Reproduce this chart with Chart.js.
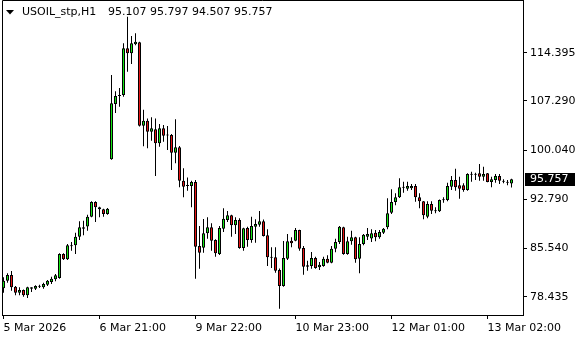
<!DOCTYPE html>
<html>
<head>
<meta charset="utf-8">
<script src="https://cdn.jsdelivr.net/npm/chart.js@4/dist/chart.umd.min.js"></script>
<style>
  html, body { margin: 0; padding: 0; background: #fff; }
  #wrap { position: relative; width: 580px; height: 340px; }
  .hdr {
    position: absolute; top: 5px;
    font: 11px "DejaVu Sans", sans-serif; color: #000; white-space: pre;
  }
</style>
</head>
<body>
<div id="wrap">
  <canvas id="c" width="580" height="340"></canvas>
  <div class="hdr" style="left:22px">USOIL_stp,H1</div>
  <div class="hdr" style="left:108px">95.107 95.797 94.507 95.757</div>
</div>
<script>
const BULL = '#14e614', BEAR = '#e61414', INK = '#000';
const FONT = { family: 'DejaVu Sans', size: 11 };

const opens = [
  79.67, 80.78, 81.62, 79.90, 79.01, 79.41, 78.63, 79.60, 79.60, 79.88,
  79.81, 80.20, 80.60, 80.99, 81.18, 84.72, 83.94, 85.95, 86.00, 87.27,
  88.46, 88.76, 90.22, 92.38, 91.60, 91.31, 90.62, 98.68, 106.83, 108.01,
  108.16, 115.04, 114.30, 115.63, 115.92, 103.63, 104.37, 102.75, 103.10, 101.03,
  103.25, 102.20, 102.26, 99.65, 100.45, 95.53, 94.80, 94.74, 95.33, 85.90,
  85.65, 87.77, 88.66, 86.78, 84.72, 88.45, 89.73, 90.42, 88.95, 89.73,
  85.60, 88.55, 86.79, 88.75, 89.04, 89.54, 87.47, 84.30, 84.23, 82.36,
  79.99, 84.03, 86.69, 86.69, 88.26, 85.60, 83.05, 82.95, 84.13, 82.75,
  82.95, 84.03, 83.44, 85.50, 86.49, 88.66, 84.72, 86.59, 87.18, 84.03,
  86.19, 87.27, 87.00, 87.86, 87.18, 87.86, 88.65, 90.81, 92.39, 93.07,
  94.50, 94.35, 94.40, 94.74, 93.07, 92.48, 90.22, 92.09, 91.11, 91.01,
  92.65, 92.68, 94.65, 95.63, 94.84, 94.84, 94.15, 96.45, 96.41, 96.61,
  96.12, 96.61, 95.33, 95.63, 96.22, 95.45, 95.33, 95.107
];
const highs = [
  81.29, 81.87, 82.21, 80.00, 79.81, 79.50, 79.90, 79.81, 80.10, 80.20,
  80.50, 80.89, 81.37, 81.77, 84.82, 84.82, 86.19, 86.49, 87.86, 89.54,
  89.63, 90.52, 92.49, 92.49, 91.69, 91.40, 91.50, 111.10, 108.70, 109.20,
  115.78, 119.70, 116.85, 117.25, 116.00, 106.00, 104.70, 104.87, 104.70, 103.88,
  103.73, 103.59, 102.40, 104.60, 100.64, 97.35, 96.00, 95.53, 95.63, 88.85,
  89.88, 90.13, 89.24, 86.88, 88.85, 91.45, 91.06, 90.50, 90.13, 89.98,
  88.60, 88.75, 90.22, 89.83, 91.06, 89.80, 88.36, 85.70, 85.70, 82.60,
  86.64, 87.67, 87.18, 88.55, 88.30, 85.90, 83.74, 85.00, 84.30, 83.54,
  84.30, 84.53, 85.90, 86.98, 88.85, 88.75, 87.27, 88.16, 87.25, 87.18,
  87.67, 88.55, 88.36, 88.26, 88.26, 88.55, 92.93, 94.25, 93.66, 95.87,
  95.38, 95.38, 95.04, 95.04, 93.66, 92.55, 92.48, 92.48, 91.60, 92.75,
  93.07, 95.24, 96.22, 97.30, 96.12, 95.14, 96.61, 96.86, 96.71, 97.99,
  97.59, 96.66, 96.12, 96.51, 96.51, 95.73, 95.63, 95.797
];
const lows = [
  79.01, 80.49, 79.31, 78.63, 78.63, 78.43, 78.24, 79.12, 79.41, 79.71,
  79.60, 79.99, 80.30, 80.70, 81.08, 83.84, 83.84, 85.20, 84.72, 86.78,
  87.47, 88.16, 90.13, 89.44, 90.13, 90.22, 90.52, 98.60, 105.50, 106.43,
  107.90, 111.60, 112.73, 115.50, 103.50, 100.60, 100.30, 101.42, 96.22, 100.54,
  101.27, 100.05, 97.10, 98.09, 94.55, 93.08, 94.05, 91.60, 81.08, 82.55,
  84.91, 86.97, 85.20, 84.32, 84.57, 87.96, 89.44, 87.27, 87.67, 85.50,
  85.20, 85.80, 86.39, 86.39, 88.75, 87.30, 82.95, 82.65, 81.96, 76.66,
  79.90, 83.84, 85.70, 86.60, 85.20, 81.67, 82.26, 82.55, 82.55, 82.36,
  82.85, 83.35, 83.35, 84.99, 86.19, 84.62, 84.62, 86.09, 83.44, 81.87,
  86.00, 86.79, 86.49, 86.60, 86.97, 87.67, 88.36, 90.62, 91.89, 92.97,
  93.76, 94.06, 94.15, 92.43, 91.45, 89.83, 89.98, 90.62, 90.72, 90.91,
  92.29, 92.48, 94.15, 94.06, 92.88, 93.91, 94.06, 95.38, 95.63, 95.53,
  95.53, 95.28, 94.55, 95.24, 95.04, 95.14, 94.84, 94.507
];
const closes = [
  80.78, 81.62, 79.81, 79.01, 79.41, 78.63, 79.81, 79.81, 80.00, 79.92,
  80.30, 80.78, 81.08, 81.58, 84.72, 83.94, 86.00, 85.85, 87.27, 88.66,
  88.66, 90.22, 92.38, 91.60, 91.31, 90.62, 91.40, 106.93, 108.01, 108.16,
  115.04, 114.30, 115.78, 116.02, 103.63, 104.37, 102.75, 103.25, 101.03, 103.25,
  102.16, 102.26, 99.65, 100.45, 95.53, 94.64, 94.74, 95.33, 85.80, 84.91,
  87.77, 88.66, 86.68, 84.82, 88.55, 89.93, 90.42, 88.95, 89.73, 85.60,
  88.50, 86.79, 88.85, 89.14, 89.54, 87.37, 84.23, 84.18, 82.26, 79.99,
  84.13, 86.59, 86.30, 88.26, 85.50, 82.85, 82.85, 84.13, 82.65, 83.15,
  84.03, 83.44, 85.50, 86.49, 88.75, 84.72, 86.59, 87.18, 83.94, 86.19,
  87.57, 87.67, 87.77, 87.18, 87.96, 88.45, 90.72, 92.39, 93.07, 94.55,
  94.55, 94.74, 94.74, 93.07, 92.48, 90.42, 92.09, 91.11, 91.01, 92.68,
  92.72, 94.74, 95.63, 94.55, 94.35, 94.15, 96.51, 96.41, 96.45, 96.12,
  96.51, 95.33, 95.73, 96.22, 95.53, 95.38, 95.24, 95.757
];

const priceTicks = [114.395, 107.290, 100.040, 92.790, 85.540, 78.435];
const timeTickBars = [0, 24, 48, 73, 97, 121];
const timeTickLabels = ['5 Mar 2026', '6 Mar 21:00', '9 Mar 22:00', '10 Mar 23:00', '12 Mar 01:00', '13 Mar 02:00'];

// left + top frame lines, triangle in header, last price box
const mtFrame = {
  id: 'mtFrame',
  afterDraw(chart) {
    const { ctx, chartArea: a, scales } = chart;
    ctx.save();
    ctx.strokeStyle = INK;
    ctx.lineWidth = 1;
    ctx.beginPath();
    ctx.moveTo(a.left + 0.5, a.bottom);
    ctx.lineTo(a.left + 0.5, a.top + 0.5);
    ctx.lineTo(a.right, a.top + 0.5);
    ctx.stroke();

    ctx.fillStyle = INK;
    ctx.beginPath();
    ctx.moveTo(6, 10);
    ctx.lineTo(14, 10);
    ctx.lineTo(10, 14.5);
    ctx.closePath();
    ctx.fill();

    const last = closes[closes.length - 1];
    const y = Math.round(scales.y.getPixelForValue(last));
    ctx.fillRect(525, y - 6, 50, 13);
    ctx.fillStyle = '#fff';
    ctx.font = '11px "DejaVu Sans"';
    ctx.textBaseline = 'middle';
    ctx.fillText(last.toFixed(3), 530, y + 0.5);
    ctx.restore();
  }
};

const noPad = s => { s.paddingTop = 0; s.paddingBottom = 0; s.paddingLeft = 0; s.paddingRight = 0; };

new Chart(document.getElementById('c'), {
  type: 'bar',
  data: {
    datasets: [
      {
        label: 'body',
        data: opens.map((o, i) => ({ x: i, y: [o, closes[i]] })),
        backgroundColor: opens.map((o, i) => closes[i] >= o ? BULL : BEAR),
        borderColor: INK, borderWidth: 1, borderSkipped: false,
        inflateAmount: 0, barThickness: 3, minBarLength: 1,
        grouped: false, order: 1,
      },
      {
        label: 'wick',
        data: lows.map((l, i) => ({ x: i, y: [l, highs[i]] })),
        backgroundColor: INK, borderWidth: 0, inflateAmount: 0,
        barThickness: 1, grouped: false, order: 2,
      },
    ],
  },
  options: {
    responsive: false, animation: false,
    layout: { padding: { left: 2, top: 0, right: 0, bottom: 0 } },
    plugins: { legend: { display: false }, tooltip: { enabled: false } },
    scales: {
      x: {
        type: 'linear', min: -0.375, max: 129.875, offset: false,
        afterBuildTicks: s => { s.ticks = timeTickBars.map(v => ({ value: v })); },
        afterFit: s => { s.height = 25; noPad(s); },
        ticks: {
          align: 'start', autoSkip: false, maxRotation: 0, padding: 3,
          color: INK, font: FONT, callback: (v, i) => timeTickLabels[i],
        },
        grid: { offset: false, drawOnChartArea: false, drawTicks: true, tickLength: 4, color: INK },
        border: { display: true, color: INK },
      },
      y: {
        position: 'right', min: 75.73, max: 122.16,
        afterBuildTicks: s => { s.ticks = priceTicks.map(v => ({ value: v })); },
        afterFit: s => { s.width = 57; noPad(s); },
        ticks: { padding: 3, color: INK, font: FONT, callback: v => v.toFixed(3) },
        grid: { drawOnChartArea: false, drawTicks: true, tickLength: 4, color: INK },
        border: { display: true, color: INK },
      },
    },
  },
  plugins: [mtFrame],
});
</script>
</body>
</html>
